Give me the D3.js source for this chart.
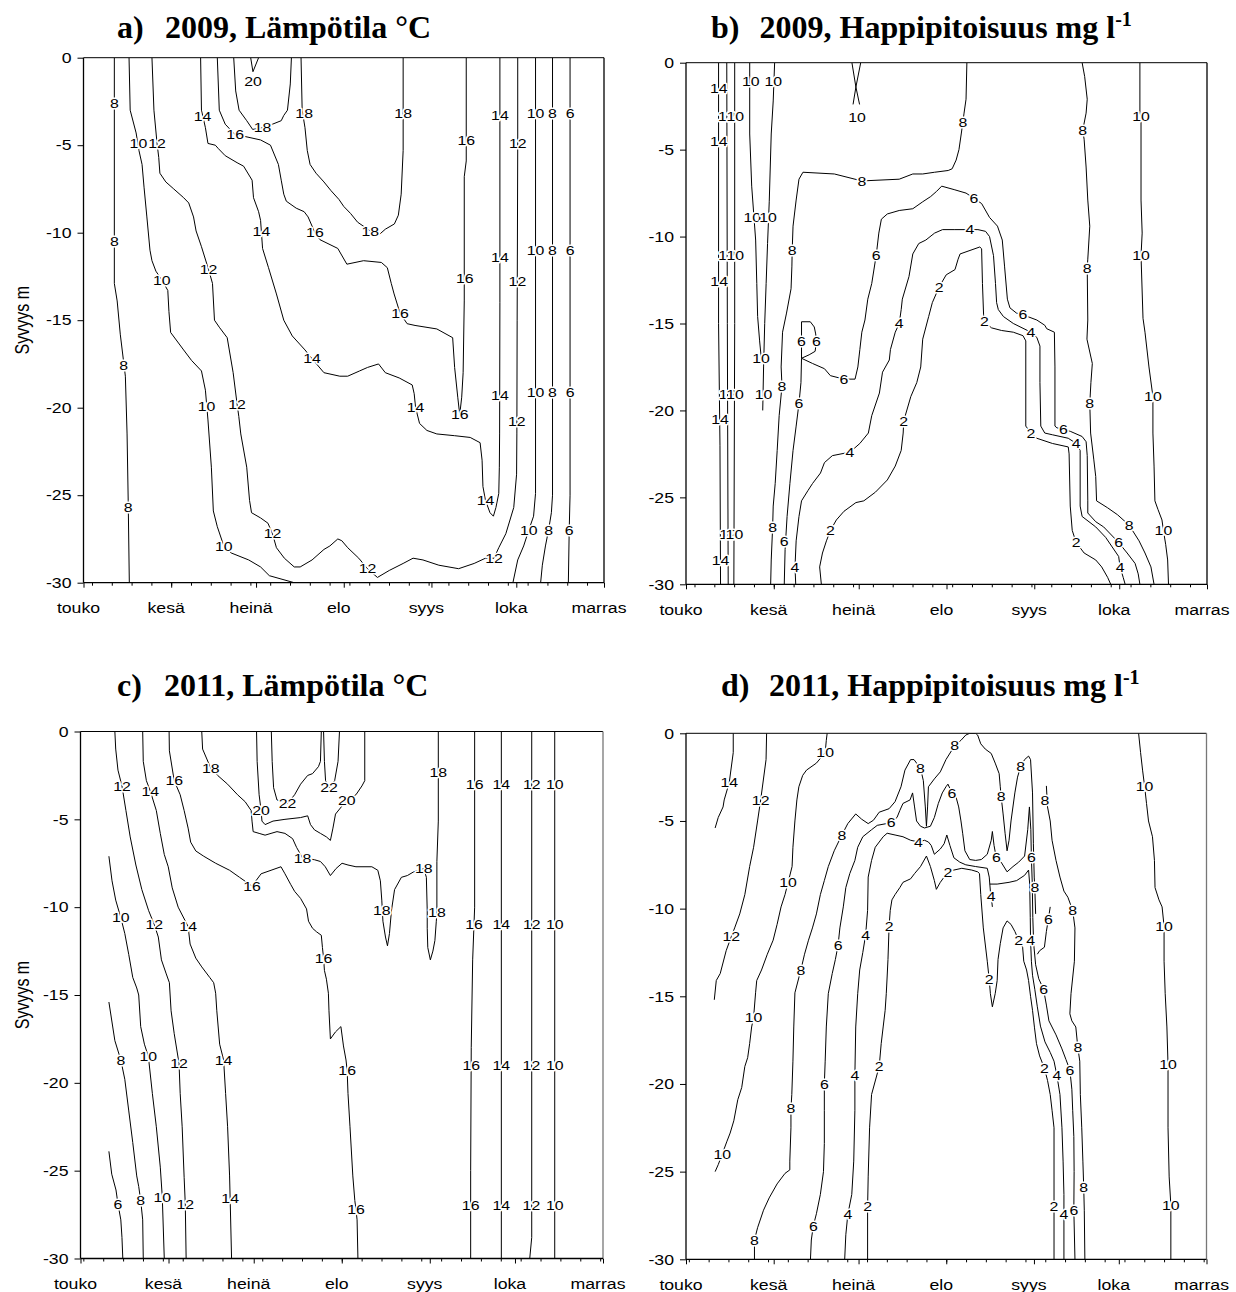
<!DOCTYPE html>
<html>
<head>
<meta charset="utf-8">
<script src="https://cdn.jsdelivr.net/npm/d3@7"></script>
<style>
  body { margin: 0; background: #fff; }
  svg { display: block; }
  .ct { fill: none; stroke: #000; stroke-width: 1; stroke-linejoin: round; }
  .clab { font-family: "Liberation Sans", Arial, sans-serif; font-size: 13px; fill: #000;
          stroke: #fff; stroke-width: 3px; paint-order: stroke; stroke-linejoin: round; }
  .tick-lab { font-family: "Liberation Sans", Arial, sans-serif; font-size: 14.5px; fill: #000; }
  .title { font-family: "Liberation Serif", "Times New Roman", serif; font-weight: bold; font-size: 32px; fill: #000; }
</style>
</head>
<body>
<svg id="chart" width="1236" height="1292"></svg>
<script>
// Axis labels
const monthLabels = ["touko", "kesä", "heinä", "elo", "syys", "loka", "marras"];
const depthTicks = [0, -5, -10, -15, -20, -25, -30];

// Contour lines: level, path as [days after 1 May, depth m], label anchors in the same units.
const temp2009 = [
  {level: 8, path: [[10.9,0],[10.9,-12.9],[11.9,-13.9],[13.0,-15.8],[14.8,-18.2],[15.4,-21.5],[15.8,-25.3],[16.2,-30]],
   labels: [[10.9,-2.6],[10.9,-10.5],[14.2,-17.6],[15.8,-25.7]]},
  {level: 10, path: [[16.1,0],[16.5,-3.0],[18.6,-4.3],[19.6,-5.3],[20.7,-6.1],[21.4,-7.4],[22.4,-9.1],[23.5,-11.0],[24.2,-11.6],[25.6,-12.2],[27.7,-12.7],[29.8,-13.3],[30.2,-14.5],[30.8,-15.7],[35.4,-16.7],[38.2,-17.3],[41.7,-17.9],[43.1,-19.0],[44.0,-20.7],[45.2,-23.4],[45.9,-25.9],[47.3,-26.8],[49.6,-27.9],[52.2,-28.3],[58.4,-28.7],[62.6,-29.1],[65.7,-29.6],[74.5,-30]],
   labels: [[19.4,-4.9],[27.7,-12.7],[43.5,-19.9],[49.6,-27.9]]},
  {level: 12, path: [[24.2,0],[24.9,-3.0],[26.0,-4.9],[26.6,-5.7],[27.0,-6.6],[29.1,-7.1],[31.9,-7.5],[35.4,-8.0],[37.2,-8.3],[38.9,-9.1],[39.8,-9.9],[41.7,-10.8],[44.2,-12.1],[45.6,-12.9],[46.3,-15.0],[48.0,-15.4],[50.8,-16.0],[52.9,-18.0],[54.3,-19.8],[54.9,-20.5],[55.6,-21.5],[57.7,-23.4],[58.7,-25.3],[59.4,-26.0],[62.6,-26.3],[65.2,-26.6],[66.8,-27.2],[68.2,-28.0],[71.0,-28.6],[74.5,-29.1],[76.6,-29.1],[80.8,-28.7],[85.0,-28.1],[87.1,-27.9],[89.9,-27.5],[91.3,-27.6],[93.4,-28.0],[97.3,-28.6],[100.4,-29.2],[103.9,-29.7],[108.1,-29.3],[113.0,-28.9],[116.5,-28.6],[120.0,-28.7],[125.6,-29.0],[132.6,-29.2],[138.1,-28.9],[142.1,-28.6],[145.1,-28.6],[146.8,-28.0],[149.3,-27.2],[152.1,-25.7],[153.1,-23.8],[153.2,-21.5],[153.3,-15],[153.5,-5],[153.5,0]],
   labels: [[26.0,-4.9],[44.2,-12.1],[54.3,-19.8],[66.8,-27.2],[100.4,-29.2],[145.1,-28.6],[153.2,-20.8],[153.4,-12.8],[153.5,-4.9]]},
  {level: 14, path: [[41.4,0],[41.7,-3.0],[43.1,-4.0],[44.0,-4.9],[46.6,-5.0],[47.7,-5.2],[50.1,-5.6],[54.3,-6.0],[56.6,-6.2],[59.6,-7.0],[60.1,-8.0],[61.9,-8.8],[62.6,-9.3],[63.3,-10.9],[65.4,-12.0],[68.2,-13.5],[70.8,-15.0],[73.8,-15.9],[78.3,-16.7],[80.8,-17.2],[85.0,-18.0],[90.6,-18.2],[93.4,-18.2],[97.6,-17.9],[100.4,-17.7],[104.3,-17.5],[106.7,-18.0],[111.6,-18.3],[116.2,-18.7],[116.9,-19.2],[117.4,-20.0],[118.8,-20.9],[121.4,-21.3],[124.9,-21.5],[131.2,-21.6],[136.7,-21.7],[140.2,-22.0],[140.9,-23.0],[141.2,-24.5],[142.1,-25.3],[143.7,-26.0],[144.9,-26.2],[145.8,-25.7],[146.8,-24.9],[147.0,-23.4],[147.1,-21.5],[147.2,-14],[147.2,0]],
   labels: [[42.1,-3.35],[62.9,-9.9],[80.8,-17.2],[117.4,-20.0],[142.1,-25.3],[147.2,-19.3],[147.2,-11.4],[147.2,-3.3]]},
  {level: 16, path: [[47.3,0],[48.0,-3.0],[50.1,-3.8],[53.6,-4.4],[57.0,-4.5],[62.6,-4.7],[66.1,-5.0],[68.9,-6.1],[69.9,-7.0],[70.8,-7.8],[71.7,-8.2],[75.2,-8.6],[78.0,-8.8],[79.4,-9.1],[81.8,-10.0],[83.6,-10.4],[89.9,-10.9],[93.1,-11.8],[99.0,-11.6],[105.3,-11.7],[107.4,-12.0],[108.8,-12.9],[109.8,-13.5],[111.9,-14.6],[114.4,-15.2],[117.2,-15.3],[124.9,-15.5],[130.5,-16.0],[131.2,-17.7],[132.3,-19.4],[133.0,-20.4],[133.7,-19.4],[134.2,-18.0],[134.6,-13.9],[134.6,-6.8],[135.3,-5.9],[135.3,0]],
   labels: [[53.6,-4.4],[81.8,-10.0],[111.9,-14.6],[133.0,-20.4],[134.8,-12.6],[135.3,-4.7]]},
  {level: 18, path: [[53.1,0],[53.8,-1.9],[55.0,-3.0],[57.7,-3.6],[59.8,-4.1],[63.3,-4.0],[66.8,-3.8],[69.9,-3.6],[70.8,-3.3],[72.1,-3.0],[73.1,-1.5],[73.5,0]],
   labels: [[63.3,-4.0]]},
  {level: 20, path: [[59.1,0],[59.9,-0.8],[61.9,0]],
   labels: [[59.9,-1.35]]},
  {level: 18, path: [[76.9,0],[77.3,-3.0],[78.3,-4.0],[79.1,-5.3],[80.1,-6.1],[82.2,-6.6],[85.0,-7.1],[87.5,-7.6],[90.3,-8.1],[92.0,-8.5],[94.4,-8.9],[96.9,-9.4],[101.4,-9.9],[104.6,-10.1],[106.7,-9.8],[109.9,-9.5],[111.3,-9.0],[112.3,-7.8],[113.0,-5.3],[113.0,0]],
   labels: [[78.0,-3.2],[101.4,-9.9],[113.0,-3.2]]},
  {level: 10, path: [[159.8,0],[159.8,-24.9],[159.1,-26.2],[157.4,-27.0],[155.6,-27.9],[153.5,-28.7],[151.8,-30]],
   labels: [[159.8,-3.2],[159.8,-11.0],[159.8,-19.1],[157.4,-27.0]]},
  {level: 8, path: [[165.8,0],[165.8,-25.0],[165.4,-26.0],[164.4,-27.0],[163.3,-27.9],[162.2,-29.0],[161.6,-30]],
   labels: [[165.8,-3.2],[165.8,-11.0],[165.8,-19.1],[164.4,-27.0]]},
  {level: 6, path: [[172.0,0],[172.0,-25],[171.7,-27.0],[171.4,-30]],
   labels: [[172.0,-3.2],[172.0,-11.0],[172.0,-19.1],[171.7,-27.0]]}
];

const oxy2009 = [
  {level: 14, path: [[11.5,0],[11.5,-15],[12.0,-22],[12.2,-30]],
   labels: [[11.6,-1.5],[11.6,-4.5],[11.7,-12.6],[12.0,-20.5],[12.2,-28.6]]},
  {level: 12, path: [[14.4,0],[14.6,-15],[14.9,-30]],
   labels: [[14.4,-3.1],[14.5,-11.05],[14.7,-19.1],[14.9,-27.1]]},
  {level: 10, path: [[17.2,0],[17.2,-15],[16.9,-30]],
   labels: [[17.4,-3.1],[17.4,-11.05],[17.3,-19.1],[17.1,-27.1]]},
  {level: 10, path: [[22.5,0],[22.5,-4.1],[23.2,-7.1],[24.6,-10.2],[25.0,-12.7],[25.3,-14.6],[26.0,-16.0],[26.7,-17.2]],
   labels: [[22.9,-1.05],[23.4,-8.9],[26.5,-17.0]]},
  {level: 10, path: [[31.3,0],[30.8,-2.2],[30.1,-4.1],[29.4,-8.0],[28.8,-10.4],[28.3,-12.7],[27.8,-15.0],[27.4,-17.5],[27.1,-20.0]],
   labels: [[30.8,-1.05],[29.0,-8.9],[27.4,-19.1]]},
  {level: 10, path: [[58.6,0],[60.0,-1.4],[61.3,-2.4]], labels: []},
  {level: 10, path: [[61.7,0],[60.0,-1.4],[59.0,-2.4]], labels: [[60.4,-3.15]]},
  {level: 8, path: [[99.2,0],[98.9,-2.1],[98.2,-2.9],[97.8,-3.4],[97.2,-4.1],[96.4,-5.0],[95.4,-5.6],[94.0,-6.1],[92.6,-6.2],[87.8,-6.3],[83.6,-6.4],[80.1,-6.4],[75.3,-6.7],[62.1,-6.8],[52.4,-6.4],[41.3,-6.3],[39.9,-6.7],[38.9,-7.9],[37.8,-9.4],[37.5,-10.8],[37.4,-11.7],[37.1,-13.0],[35.5,-14.4],[34.1,-15.5],[33.6,-17.5],[33.9,-18.6],[32.9,-20.3],[32.2,-22.3],[31.5,-24.2],[30.8,-25.5],[30.6,-26.7],[30.1,-28.6],[29.9,-30]],
   labels: [[97.8,-3.4],[62.1,-6.8],[37.5,-10.8],[33.9,-18.6],[30.6,-26.7]]},
  {level: 8, path: [[139.9,0],[140.8,-0.8],[141.7,-2.1],[141.3,-2.9],[140.1,-3.9],[140.6,-4.4],[141.3,-6.0],[141.9,-7.9],[142.6,-9.4],[141.9,-11.3],[141.7,-11.8],[141.9,-14.8],[141.6,-15.9],[143.5,-17.3],[143.0,-18.4],[142.6,-19.6],[142.9,-21.3],[144.0,-22.8],[144.7,-23.8],[145.0,-25.2],[148.9,-25.6],[152.4,-26.0],[156.5,-26.6],[160.0,-27.5],[162.1,-28.2],[164.2,-29.0],[165.3,-30]],
   labels: [[140.1,-3.9],[141.7,-11.8],[142.6,-19.6],[156.5,-26.6]]},
  {level: 10, path: [[160.3,0],[160.3,-2.9],[160.7,-3.1],[160.7,-7.9],[161.1,-9.8],[160.7,-11.1],[161.4,-14.7],[162.1,-15.5],[163.5,-17.5],[164.9,-19.2],[164.9,-21.3],[165.3,-23.2],[165.6,-25.2],[166.7,-25.7],[168.1,-26.3],[168.6,-26.9],[169.4,-27.7],[170.1,-28.6],[170.4,-30]],
   labels: [[160.7,-3.1],[160.7,-11.1],[164.9,-19.2],[168.6,-26.9]]},
  {level: 6, path: [[34.7,-30],[35.0,-28.0],[35.7,-26.1],[36.7,-24.2],[37.8,-22.3],[38.9,-20.9],[39.9,-19.6],[40.6,-18.4],[40.8,-17.0]],
   labels: [[34.7,-27.5],[39.9,-19.6]]},
  {level: 6, path: [[40.8,-17.0],[40.8,-14.9],[43.9,-14.9],[45.3,-15.2],[45.8,-15.6],[46.1,-16.0],[45.6,-16.6],[43.5,-16.8],[40.8,-17.0]],
   labels: [[40.8,-16.0],[46.1,-16.0]]},
  {level: 6, path: [[40.8,-17.0],[44.7,-17.3],[48.9,-17.6],[51.0,-18.0],[55.8,-18.2],[59.7,-18.2],[60.7,-17.5],[61.4,-16.5],[62.1,-15.5],[63.2,-14.8],[64.2,-13.6],[65.6,-12.7],[67.2,-11.05],[68.1,-9.8],[69.0,-9.0],[71.1,-8.7],[75.3,-8.5],[80.1,-8.4],[83.6,-8.0],[86.4,-7.7],[88.5,-7.4],[90.3,-7.1],[94.7,-7.3],[98.9,-7.5],[101.7,-7.8],[104.4,-8.1],[107.2,-8.9],[110.0,-9.4],[111.7,-10.2],[112.5,-11.7],[113.5,-13.6],[114.4,-14.1],[116.7,-14.4],[119.0,-14.5],[123.9,-14.8],[126.7,-15.1],[127.4,-15.3],[130.1,-15.5],[130.3,-17.5],[130.3,-20.9],[131.0,-21.0],[133.3,-21.1],[135.7,-21.2],[139.9,-21.5],[141.3,-21.8],[141.7,-22.6],[141.9,-25.2],[141.9,-25.9],[144.7,-26.4],[147.5,-26.7],[152.8,-27.6],[155.8,-28.2],[158.6,-28.8],[159.7,-29.4],[160.3,-30]],
   labels: [[55.8,-18.2],[67.2,-11.05],[101.7,-7.8],[119.0,-14.5],[133.3,-21.1],[152.8,-27.6]]},
  {level: 4, path: [[38.75,-30],[38.5,-29.0],[38.9,-27.5],[39.9,-26.1],[40.8,-25.2],[43.1,-24.6],[44.7,-24.2],[47.5,-23.6],[48.9,-23.0],[51.7,-22.6],[57.9,-22.4],[61.4,-21.9],[64.4,-21.3],[65.6,-20.3],[68.3,-19.0],[69.4,-17.8],[71.8,-17.1],[72.2,-16.5],[73.9,-15.5],[75.3,-15.0],[76.0,-14.2],[76.4,-13.6],[78.75,-12.3],[80.1,-11.0],[82.2,-10.4],[84.7,-10.2],[87.8,-9.8],[90.6,-9.6],[94.7,-9.6],[100.3,-9.6],[103.1,-9.6],[105.8,-9.7],[107.2,-10.0],[108.6,-11.1],[109.3,-12.7],[109.7,-13.8],[110.3,-14.2],[112.1,-14.6],[115.6,-15.0],[121.8,-15.5],[123.9,-15.8],[125.0,-16.3],[125.0,-18.4],[125.3,-20.9],[126.7,-21.3],[129.4,-21.4],[135.0,-21.6],[137.8,-21.9],[139.2,-22.3],[139.2,-25.5],[139.9,-26.1],[144.7,-26.7],[148.2,-27.3],[150.3,-27.8],[152.8,-28.4],[153.3,-29.0],[154.4,-29.6],[155.1,-30]],
   labels: [[38.5,-29.0],[57.9,-22.4],[75.3,-15.0],[100.3,-9.6],[121.8,-15.5],[137.8,-21.9],[153.3,-29.0]]},
  {level: 2, path: [[47.8,-30],[47.2,-29.0],[48.2,-28.2],[49.6,-27.5],[51.0,-26.9],[53.1,-26.3],[55.8,-25.8],[60.0,-25.3],[62.8,-25.2],[66.9,-24.7],[71.1,-24.0],[73.9,-23.2],[76.0,-22.3],[76.7,-21.3],[76.9,-20.6],[79.4,-19.2],[81.5,-18.4],[82.9,-17.5],[83.6,-15.9],[85.7,-14.6],[87.0,-13.8],[89.4,-12.9],[91.9,-12.2],[95.0,-11.9],[96.1,-11.3],[96.8,-11.0],[103.75,-10.6],[104.4,-10.7],[104.7,-12.7],[105.1,-14.5],[105.4,-14.9],[107.9,-15.25],[111.4,-15.4],[115.6,-15.5],[119.0,-15.7],[120.0,-16.0],[120.0,-20.9],[121.8,-21.3],[123.9,-21.6],[129.4,-21.9],[135.0,-22.1],[135.3,-22.5],[135.7,-25.5],[136.4,-26.9],[137.8,-27.6],[140.6,-28.2],[144.7,-28.6],[146.8,-29.0],[148.9,-29.6],[150.0,-30]],
   labels: [[51.0,-26.9],[76.9,-20.6],[89.4,-12.9],[105.4,-14.9],[121.8,-21.3],[137.8,-27.6]]}
];

const temp2011 = [
  {level: 6, path: [[10.0,-23.9],[11.0,-25.2],[12.5,-26.1],[13.2,-26.9],[14.2,-27.8],[14.6,-28.8],[14.9,-30]],
   labels: [[13.2,-26.9]]},
  {level: 8, path: [[10.0,-15.4],[12.1,-17.6],[14.2,-18.7],[15.6,-19.8],[17.0,-21.6],[18.4,-23.4],[19.8,-25.3],[20.5,-25.9],[21.2,-26.7],[21.9,-27.8],[22.1,-30]],
   labels: [[14.2,-18.7],[21.2,-26.7]]},
  {level: 10, path: [[10.0,-7.1],[11.1,-8.5],[12.4,-9.6],[14.2,-10.6],[15.6,-11.5],[17.0,-12.7],[18.4,-14.0],[19.8,-14.6],[20.5,-15.0],[21.2,-16.8],[22.5,-17.8],[23.9,-18.5],[25.3,-20.6],[26.7,-22.5],[28.1,-24.8],[28.8,-26.5],[29.5,-30]],
   labels: [[14.2,-10.6],[23.9,-18.5],[28.8,-26.5]]},
  {level: 12, path: [[12.1,0],[12.4,-1.0],[13.2,-2.2],[14.6,-3.1],[16.0,-4.5],[17.5,-6.0],[19.5,-7.6],[21.6,-9.0],[24.0,-10.2],[26.0,-11.0],[27.4,-11.7],[28.5,-13.0],[30.2,-13.8],[31.3,-14.3],[31.9,-15.9],[33.0,-17.2],[34.7,-18.9],[35.1,-20.6],[35.8,-22.5],[36.5,-25.4],[36.9,-26.9],[37.2,-30]],
   labels: [[14.6,-3.1],[26.0,-11.0],[34.7,-18.9],[36.9,-26.9]]},
  {level: 14, path: [[21.9,0],[22.1,-1.7],[23.2,-2.8],[24.6,-3.4],[26.7,-4.5],[28.1,-5.8],[29.5,-7.0],[30.9,-7.7],[32.3,-8.9],[34.4,-10.0],[37.9,-11.1],[38.6,-12.1],[40.6,-12.9],[42.7,-13.4],[45.5,-14.0],[46.9,-14.3],[47.6,-14.9],[48.0,-15.9],[49.0,-17.8],[50.4,-18.7],[51.1,-20.6],[51.8,-22.5],[52.5,-25.3],[52.7,-26.6],[53.2,-30]],
   labels: [[24.6,-3.4],[37.9,-11.1],[50.4,-18.7],[52.7,-26.6]]},
  {level: 16, path: [[31.2,0],[31.3,-1.1],[33.0,-2.8],[35.1,-3.6],[36.5,-4.5],[37.9,-5.5],[38.8,-6.3],[40.6,-6.8],[43.4,-7.1],[47.6,-7.5],[52.5,-7.9],[56.0,-8.3],[60.4,-8.8],[63.6,-8.1],[67.1,-7.9],[70.6,-7.7],[72.0,-8.1],[74.0,-8.7],[75.4,-9.1],[77.5,-9.5],[79.6,-10.1],[80.3,-10.8],[81.7,-11.2],[83.1,-11.4],[84.8,-11.6],[85.2,-12.3],[85.6,-12.9],[85.9,-13.6],[86.6,-14.1],[87.3,-14.9],[87.5,-15.9],[88.0,-17.5],[89.8,-17.1],[91.7,-16.8],[92.6,-17.9],[93.5,-18.7],[93.9,-19.3],[94.2,-20.6],[94.9,-22.5],[95.9,-25.3],[96.6,-26.7],[97.0,-27.2],[97.4,-27.8],[97.7,-30]],
   labels: [[33.0,-2.8],[60.4,-8.8],[85.6,-12.9],[93.9,-19.3],[97.0,-27.2]]},
  {level: 18, path: [[42.7,0],[43.0,-1.0],[45.9,-2.1],[48.3,-2.5],[51.8,-3.0],[55.3,-3.6],[58.0,-4.0],[60.1,-4.5],[60.4,-5.1],[60.8,-5.7],[62.9,-5.8],[65.0,-5.9],[67.1,-5.8],[69.2,-5.7],[72.0,-5.8],[74.7,-6.1],[76.1,-6.6],[78.2,-7.2],[82.4,-7.3],[84.5,-7.4],[86.2,-7.7],[88.0,-8.2],[90.0,-7.8],[92.1,-7.5],[94.2,-7.6],[97.0,-7.7],[102.6,-7.7],[104.7,-7.9],[105.6,-8.5],[106.1,-9.6],[106.5,-10.8],[107.4,-11.7],[108.1,-12.2],[108.8,-11.5],[109.5,-10.2],[110.6,-9.0],[113.0,-8.3],[115.1,-8.2],[117.2,-8.0],[120.9,-7.8],[121.8,-8.3],[122.1,-10.2],[122.1,-11.2],[122.3,-12.3],[123.2,-13.0],[124.1,-12.5],[124.8,-11.9],[125.3,-10.8],[125.5,-10.3],[125.5,-7.4],[126.0,-5.1],[126.0,0]],
   labels: [[45.9,-2.1],[78.2,-7.2],[106.1,-10.2],[120.9,-7.8],[125.5,-10.3],[126.0,-2.3]]},
  {level: 20, path: [[62.0,0],[62.2,-1.7],[62.9,-3.6],[63.6,-4.5],[63.9,-5.1],[65.0,-5.3],[67.8,-5.1],[72.0,-5.0],[77.5,-4.9],[80.0,-4.8],[81.0,-5.3],[82.4,-5.6],[84.5,-5.8],[86.6,-6.0],[88.0,-6.2],[88.9,-5.5],[89.8,-4.7],[93.8,-3.9],[97.0,-3.6],[99.1,-3.1],[100.1,-2.8],[100.1,0]],
   labels: [[63.6,-4.5],[93.8,-3.9]]},
  {level: 22, path: [[67.2,0],[67.5,-1.7],[68.0,-3.2],[69.2,-3.9],[72.9,-4.1],[75.4,-3.6],[77.5,-3.0],[80.0,-2.5],[81.7,-2.4],[83.8,-2.0],[84.5,-1.7],[84.8,0]],
   labels: [[72.9,-4.1]]},
  {level: 22, path: [[85.6,0],[85.9,-1.7],[86.3,-2.8],[87.5,-3.2],[89.5,-2.8],[90.7,-1.7],[91.2,0]],
   labels: [[87.5,-3.2]]},
  {level: 16, path: [[138.8,0],[138.8,-10],[138.1,-13],[137.6,-18],[137.4,-25],[137.4,-30]],
   labels: [[138.8,-3.0],[138.6,-11.0],[137.6,-19.0],[137.4,-27.0]]},
  {level: 14, path: [[148.2,0],[148.2,-30]],
   labels: [[148.2,-3.0],[148.2,-11.0],[148.2,-19.0],[148.2,-27.0]]},
  {level: 12, path: [[158.9,0],[158.9,-28.8],[158.2,-30]],
   labels: [[158.9,-3.0],[158.9,-11.0],[158.8,-19.0],[158.8,-27.0]]},
  {level: 10, path: [[167.0,0],[167.0,-30]],
   labels: [[167.0,-3.0],[167.0,-11.0],[167.0,-19.0],[167.0,-27.0]]}
];

const oxy2011 = [
  {level: 14, path: [[16.7,0],[16.7,-1.1],[15.3,-2.8],[13.5,-3.8],[13.1,-4.2],[11.4,-4.8],[10.3,-5.4]],
   labels: [[15.3,-2.8]]},
  {level: 12, path: [[28.5,0],[28.3,-1.5],[26.4,-3.8],[25.3,-5.0],[23.9,-6.5],[22.5,-7.6],[20.8,-9.2],[19.0,-10.3],[17.2,-11.1],[16.0,-11.6],[14.2,-12.4],[12.1,-13.7],[10.7,-14.1],[10.0,-15.2]],
   labels: [[26.4,-3.8],[16.0,-11.6]]},
  {level: 10, path: [[49.9,0],[49.6,-0.4],[49.2,-1.1],[46.1,-1.7],[42.6,-2.1],[41.25,-2.4],[39.9,-3.05],[39.2,-3.8],[38.5,-5.0],[37.8,-6.5],[37.5,-7.6],[36.1,-8.5],[35.0,-9.2],[33.6,-9.9],[32.2,-10.9],[30.8,-11.8],[28.75,-12.6],[26.7,-13.5],[25.0,-14.1],[24.6,-14.8],[23.9,-16.2],[23.2,-16.75],[22.5,-17.7],[21.8,-18.5],[20.8,-19.0],[19.7,-20.2],[18.3,-20.9],[16.9,-22.1],[15.6,-22.8],[14.4,-23.3],[12.8,-24.0],[11.4,-24.6],[10.3,-25.0]],
   labels: [[49.2,-1.1],[36.1,-8.5],[23.9,-16.2],[12.8,-24.0]]},
  {level: 8, path: [[24.2,-30],[24.2,-28.9],[25.3,-28.2],[27.4,-27.2],[29.4,-26.5],[32.2,-25.7],[35.0,-25.1],[36.7,-24.9],[36.7,-24.4],[37.1,-22.5],[37.1,-21.4],[37.4,-20.6],[37.8,-18.7],[38.1,-16.75],[38.5,-14.8],[40.6,-13.5],[41.9,-12.6],[43.3,-11.8],[44.7,-11.1],[46.1,-10.3],[47.5,-9.2],[48.9,-8.4],[50.3,-7.6],[52.4,-6.7],[55.1,-5.8],[57.2,-5.15],[60.0,-4.6],[62.1,-4.9],[64.4,-5.15],[66.25,-4.96],[68.3,-4.5],[71.8,-4.3],[73.9,-3.9],[76.0,-3.05],[77.4,-2.1],[79.4,-1.5],[80.6,-1.5],[82.9,-2.0],[83.9,-2.7],[84.6,-4.2],[85.0,-5.3],[85.4,-4.2],[85.7,-3.05],[87.8,-2.6],[89.9,-2.2],[91.9,-1.5],[95.0,-0.7],[97.2,-0.4],[98.9,-0.1],[100.3,0],[102.4,0],[103.1,-0.1],[104.2,-0.6],[105.8,-0.9],[107.9,-1.15],[109.3,-1.7],[110.7,-2.3],[111.1,-3.05],[111.4,-3.6],[112.1,-4.6],[112.8,-5.7],[113.5,-6.7],[114.2,-6.1],[114.9,-5.0],[116.25,-3.4],[117.2,-2.5],[118.3,-1.9],[119.7,-1.5],[121.1,-1.3],[121.8,-1.5],[122.5,-3.4],[122.8,-6.3],[123.1,-8.2],[123.3,-8.8],[123.6,-10.3]],
   labels: [[24.2,-28.9],[37.1,-21.4],[40.6,-13.5],[55.1,-5.8],[82.9,-2.0],[95.0,-0.7],[111.4,-3.6],[118.3,-1.9],[123.3,-8.8]]},
  {level: 8, path: [[127.4,-3.0],[127.8,-4.2],[128.75,-5.0],[129.4,-6.1],[130.8,-7.25],[132.2,-8.2],[133.6,-9.0],[135.0,-9.35],[136.7,-10.1],[137.5,-11.1],[137.3,-13.0],[136.1,-14.85],[135.7,-16.0],[136.4,-16.4],[137.8,-16.75],[138.5,-17.9],[139.2,-18.7],[139.4,-20.6],[139.9,-22.5],[140.3,-24.4],[140.6,-25.9],[140.8,-27.2],[141.0,-30]],
   labels: [[126.9,-3.8],[136.7,-10.1],[138.5,-17.9],[140.6,-25.9]]},
  {level: 6, path: [[44.0,-30],[44.3,-28.9],[45.0,-28.1],[46.1,-27.4],[47.5,-26.3],[48.6,-25.0],[48.9,-23.4],[48.9,-21.5],[48.9,-20.0],[49.2,-18.7],[49.6,-16.75],[50.3,-14.85],[51.7,-13.7],[52.8,-12.9],[53.75,-12.1],[54.4,-11.1],[55.6,-9.9],[56.5,-8.8],[57.9,-8.0],[59.7,-7.25],[60.7,-6.5],[62.5,-5.9],[65.6,-5.5],[67.6,-5.25],[72.5,-5.1],[74.6,-4.8],[75.6,-4.4],[76.7,-4.0],[79.2,-3.8],[80.1,-3.4],[80.8,-4.2],[81.5,-5.0],[82.9,-5.3],[84.3,-5.4],[86.4,-5.3],[87.8,-4.8],[89.2,-4.0],[90.6,-3.4],[91.9,-3.05],[92.6,-2.9],[94.0,-3.4],[95.4,-3.6],[96.4,-4.2],[97.2,-5.0],[97.8,-5.7],[98.6,-6.7],[100.3,-7.2],[102.4,-7.25],[104.4,-7.2],[106.5,-6.9],[107.9,-6.1],[108.3,-5.6],[108.9,-6.4],[109.7,-7.1],[111.4,-7.35],[113.5,-7.9],[115.6,-7.6],[117.6,-7.35],[119.7,-7.0],[120.8,-5.5],[121.4,-4.2],[121.9,-5.5],[122.1,-7.1],[122.4,-8.5],[122.6,-10.5],[122.9,-12.0],[123.6,-13.2],[124.7,-14.0],[126.4,-14.6],[127.4,-15.5],[128.3,-16.4],[130.8,-17.2],[132.9,-18.0],[134.3,-18.6],[135.7,-19.2],[136.4,-20.3],[136.7,-21.5],[137.1,-23.0],[137.2,-25.0],[137.1,-27.2],[137.5,-30]],
   labels: [[45.0,-28.1],[48.9,-20.0],[53.75,-12.1],[72.5,-5.1],[94.0,-3.4],[109.7,-7.1],[122.1,-7.1],[126.4,-14.6],[135.7,-19.2],[137.1,-27.2]]},
  {level: 6, path: [[128.75,-9.9],[128.1,-10.6],[127.4,-11.3],[126.7,-12.2],[125.0,-12.4],[124.2,-12.6]],
   labels: [[128.1,-10.6]]},
  {level: 4, path: [[56.1,-30],[56.5,-28.6],[57.2,-27.45],[58.6,-26.3],[59.3,-24.4],[59.7,-21.5],[59.7,-19.5],[60.0,-16.75],[60.7,-14.85],[61.4,-13.5],[62.5,-12.5],[63.5,-11.5],[64.2,-10.1],[64.4,-8.2],[65.6,-7.25],[66.9,-6.5],[69.7,-5.9],[71.1,-5.7],[73.9,-5.8],[76.7,-5.9],[79.4,-6.1],[82.2,-6.2],[84.3,-6.1],[85.7,-6.2],[86.7,-6.4],[87.8,-6.9],[89.9,-6.6],[91.25,-6.3],[92.2,-5.8],[93.3,-6.4],[94.7,-7.1],[96.8,-7.35],[98.9,-7.5],[102.4,-7.6],[106.5,-7.7],[107.2,-8.2],[107.6,-9.0],[107.9,-9.3],[108.3,-9.9]],
   labels: [[57.2,-27.45],[59.7,-19.5],[63.5,-11.5],[82.2,-6.2],[107.9,-9.3]]},
  {level: 4, path: [[107.4,-8.6],[110.0,-8.6],[114.2,-8.5],[116.9,-8.4],[119.7,-8.1],[121.1,-7.8],[121.5,-8.6],[121.7,-10.5],[121.8,-11.8],[122.1,-13.0],[122.5,-13.8],[123.3,-14.6],[124.2,-15.6],[125.3,-16.7],[126.9,-17.6],[128.75,-18.2],[130.1,-18.7],[131.1,-19.5],[132.2,-20.6],[132.9,-22.5],[133.3,-24.4],[133.6,-26.3],[133.6,-27.45],[133.6,-30]],
   labels: [[121.8,-11.8],[131.1,-19.5],[133.6,-27.45]]},
  {level: 2, path: [[64.2,-30],[64.2,-27.0],[64.4,-25.3],[64.9,-22.5],[65.6,-20.6],[68.3,-19.0],[69.0,-17.7],[69.7,-16.75],[70.4,-15.8],[70.8,-14.85],[71.1,-13.9],[71.4,-12.9],[71.8,-11.0],[72.2,-10.1],[72.8,-9.5],[73.9,-9.2],[75.6,-8.8],[76.7,-8.5],[79.4,-8.3],[80.8,-8.0],[82.9,-7.6],[85.0,-7.0],[86.4,-7.6],[87.8,-8.4],[88.5,-8.9],[89.9,-8.5],[92.6,-7.9],[94.7,-7.8],[97.5,-7.7],[101.0,-7.8],[103.1,-7.9],[103.75,-8.0],[104.2,-9.2],[105.1,-11.1],[106.5,-13.0],[107.2,-14.05],[107.6,-14.85],[108.3,-15.6],[109.3,-14.85],[110.0,-14.1],[110.3,-12.9],[111.1,-12.0],[112.1,-11.1],[113.5,-10.7],[114.9,-10.9],[116.25,-11.3],[117.6,-11.8],[119.0,-12.2],[119.4,-13.0],[120.4,-13.5],[121.1,-14.1],[121.8,-15.0],[122.5,-15.8],[123.2,-16.8],[123.9,-17.7],[125.0,-18.4],[126.7,-19.1],[127.8,-19.8],[128.75,-20.6],[129.4,-21.5],[130.1,-22.5],[130.1,-27.0],[130.1,-30]],
   labels: [[64.2,-27.0],[68.3,-19.0],[71.8,-11.0],[92.6,-7.9],[107.2,-14.05],[117.6,-11.8],[126.7,-19.1],[130.1,-27.0]]},
  {level: 10, path: [[160.0,0],[160.7,-1.1],[161.4,-2.1],[162.1,-3.0],[162.8,-4.0],[163.5,-5.0],[164.9,-5.9],[165.6,-7.25],[165.8,-8.8],[167.2,-9.5],[168.3,-9.9],[169.0,-11.0],[169.0,-13.0],[169.4,-14.85],[170.0,-16.75],[170.4,-18.9],[170.4,-22.5],[170.8,-25.3],[171.4,-26.9],[171.4,-30]],
   labels: [[162.1,-3.0],[169.0,-11.0],[170.4,-18.9],[171.4,-26.9]]}
];

// Panel layout
const panels = [
  {key: "a", year: 2009, data: temp2009, left: 83.5, right: 604, top: 57.7, bottom: 582.7, yTitle: true, rightEdge: "#000"},
  {key: "b", year: 2009, data: oxy2009, left: 686, right: 1207, top: 62.7, bottom: 584.3, yTitle: false, rightEdge: "#000"},
  {key: "c", year: 2011, data: temp2011, left: 80.5, right: 603, top: 731.5, bottom: 1258.5, yTitle: true, rightEdge: "#777"},
  {key: "d", year: 2011, data: oxy2011, left: 686, right: 1206.5, top: 733.3, bottom: 1259.3, yTitle: false, rightEdge: "#777"}
];

const titles = [
  {tag: "a)", text: "2009, Lämpötila °C", x1: 117, x2: 165, y: 38},
  {tag: "b)", text: "2009, Happipitoisuus mg l", sup: "-1", x1: 711, x2: 759.5, y: 37.5},
  {tag: "c)", text: "2011, Lämpötila °C", x1: 117, x2: 164, y: 696},
  {tag: "d)", text: "2011, Happipitoisuus mg l", sup: "-1", x1: 721, x2: 769, y: 696}
];

const SX = 1.22;   // horizontal text stretch of the plot lettering
const svg = d3.select("#chart");

panels.forEach(p => {
  const w = p.right - p.left, h = p.bottom - p.top;
  const t0 = new Date(Date.UTC(p.year, 4, 1));
  const t1 = new Date(Date.UTC(p.year, 10, 1));
  const x = d3.scaleUtc().domain([t0, t1]).range([0, w]);
  const y = d3.scaleLinear().domain([0, -30]).range([0, h]);
  const toDate = d => new Date(t0.getTime() + d * 864e5);
  const px = d => x(toDate(d));

  const g = svg.append("g").attr("transform", `translate(${p.left},${p.top})`);
  const clipId = "clip-" + p.key;
  g.append("clipPath").attr("id", clipId).append("rect").attr("width", w).attr("height", h);

  const plot = g.append("g").attr("clip-path", `url(#${clipId})`);
  const line = d3.line().x(q => px(q[0])).y(q => y(q[1]));

  plot.append("g").selectAll("path").data(p.data).join("path")
    .attr("class", "ct").attr("d", c => line(c.path));

  // contour labels, drawn after the lines so their white halo opens a gap
  const labG = plot.append("g");
  p.data.forEach(c => {
    c.labels.forEach(l => {
      labG.append("text").attr("class", "clab")
        .attr("text-anchor", "middle")
        .attr("transform", `translate(${px(l[0])},${y(l[1])}) scale(${SX},1)`)
        .attr("dy", "0.36em")
        .text(c.level);
    });
  });

  // x axis: month starts (major) and Mondays (minor)
  const major = d3.axisBottom(x).ticks(d3.utcMonth.every(1)).tickSize(5).tickFormat("");
  const minor = d3.axisBottom(x).ticks(d3.utcMonday.every(1)).tickSize(3).tickFormat("");
  [major, minor].forEach(ax => {
    const a = g.append("g").attr("transform", `translate(0,${h})`).call(ax);
    a.select(".domain").remove();
    a.selectAll("line").attr("stroke", "#000").attr("stroke-width", 1);
  });

  d3.utcMonth.range(t0, d3.utcMonth.offset(t1, 1)).forEach((m, i) => {
    g.append("text").attr("class", "tick-lab")
      .attr("text-anchor", "middle")
      .attr("transform", `translate(${x(m) - 5},${h + 25}) scale(${SX},1)`)
      .attr("dy", "0.36em")
      .text(monthLabels[i]);
  });

  // y axis
  const yAx = g.append("g").call(d3.axisLeft(y).tickValues(depthTicks).tickSize(6).tickFormat(""));
  yAx.select(".domain").remove();
  yAx.selectAll("line").attr("stroke", "#000");
  depthTicks.forEach(d => {
    g.append("text").attr("class", "tick-lab")
      .attr("text-anchor", "end")
      .attr("transform", `translate(-12,${y(d)}) scale(${SX},1)`)
      .attr("dy", "0.36em")
      .text(String(d));
  });

  // frame
  g.append("line").attr("x1", 0).attr("x2", w).attr("y1", 0).attr("y2", 0).attr("stroke", "#000");
  g.append("line").attr("x1", w).attr("x2", w).attr("y1", 0).attr("y2", h).attr("stroke", p.rightEdge).attr("stroke-width", 1.3);
  g.append("line").attr("x1", 0).attr("x2", 0).attr("y1", 0).attr("y2", h).attr("stroke", "#000").attr("stroke-width", 1.3);
  g.append("line").attr("x1", 0).attr("x2", w).attr("y1", h).attr("y2", h).attr("stroke", "#000").attr("stroke-width", 1.3);

  if (p.yTitle) {
    svg.append("text").attr("class", "tick-lab")
      .attr("text-anchor", "middle")
      .attr("transform", `translate(22,${p.top + h / 2}) scale(${SX},1) rotate(-90)`)
      .attr("dy", "0.36em")
      .style("font-size", "16px")
      .text("Syvyys m");
  }
});

titles.forEach(t => {
  const tx = svg.append("text").attr("class", "title").attr("y", t.y);
  tx.append("tspan").attr("x", t.x1).text(t.tag);
  tx.append("tspan").attr("x", t.x2).text(t.text);
  if (t.sup) tx.append("tspan").attr("dy", -12).style("font-size", "20px").text(t.sup);
});
</script>
</body>
</html>
